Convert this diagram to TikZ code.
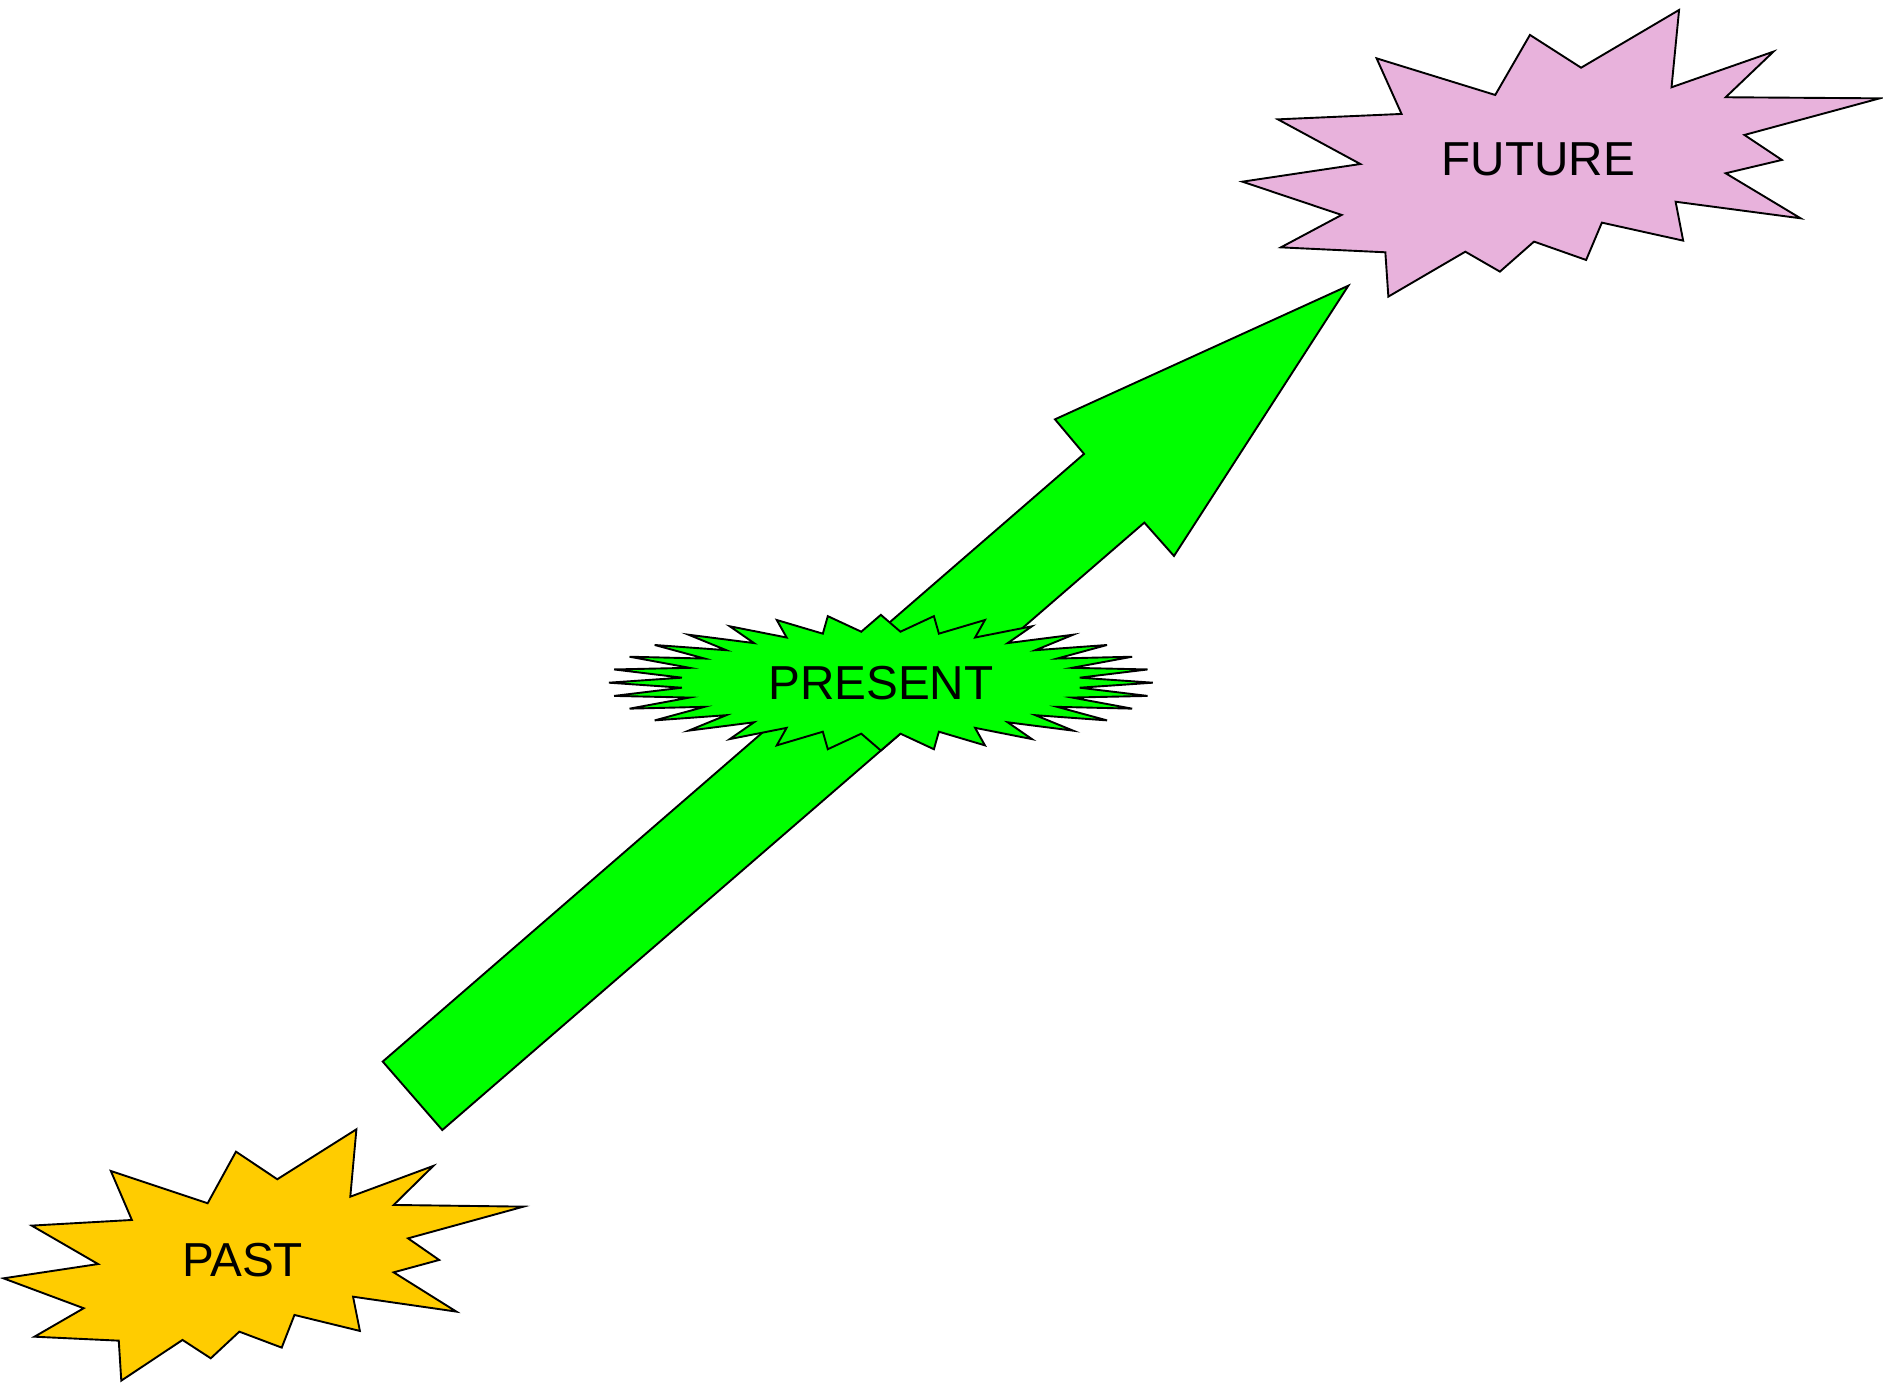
\documentclass[tikz,border=0pt]{standalone}
\usepackage{fontspec}
\setmainfont{Liberation Sans}
\usepackage{xcolor}
\definecolor{pastgold}{RGB}{255,204,0}
\definecolor{futurepink}{RGB}{232,178,220}
\definecolor{nowgreen}{RGB}{0,255,0}

\begin{document}
\begin{tikzpicture}[x=0.1mm, y=-0.1mm,
    burst/.style={draw=black, line width=0.45pt, line join=miter},
    lbl/.style={font=\fontsize{11.3}{13}\selectfont, inner sep=0pt}
]
\useasboundingbox (0,0) rectangle (1568,1152);

% big arrow, behind the present burst
\draw[burst, fill=nowgreen] (318.7,884) -- (902.7,378) -- (878.5,349.2) -- (1122.8,237.9)
    -- (977.6,463) -- (952.9,435.2) -- (368.3,941) -- cycle;

% present
\draw[burst, fill=nowgreen] (960,568.5)
    \foreach \i in {0,...,31} {
        -- ({733.5+0.735*226.5*cos(\i*11.25+5.625)}, {568.5-0.755*56.5*sin(\i*11.25+5.625)})
        -- ({733.5+226.5*cos((\i+1)*11.25)}, {568.5-56.5*sin((\i+1)*11.25)})
    } -- cycle;
\node[lbl] (present) at (733.5,569) {PRESENT};

% past
\draw[burst, fill=pastgold] (296.8,940.4) -- (291.7,996.5) -- (360.8,970.9) -- (327.8,1003.4)
    -- (435.9,1004.8) -- (339.8,1031.2) -- (365.7,1049.2) -- (327.8,1059.5) -- (380,1092.2)
    -- (294,1079.8) -- (299.7,1108.3) -- (245.2,1095) -- (234.6,1122.2) -- (199.3,1108.9)
    -- (175.5,1131.1) -- (152,1115.8) -- (101,1149.7) -- (98.9,1116.4) -- (28.7,1113.1)
    -- (69.7,1089.4) -- (2.9,1064.5) -- (81.7,1052.6) -- (26.4,1020.6) -- (109.8,1015.9)
    -- (92.3,975.1) -- (172.9,1002) -- (196.5,959) -- (230.9,982) -- cycle;
\node[lbl] (past) at (202,1049) {PAST};

% future
\draw[burst, fill=futurepink] (1398.2,8.3) -- (1391.9,72.7) -- (1476.8,43) -- (1437,81)
    -- (1565.3,81.9) -- (1452.6,112.4) -- (1483.8,133.2) -- (1437,144.3) -- (1499.4,181.8)
    -- (1395.3,168) -- (1401.6,200.4) -- (1333.9,185.4) -- (1320.8,216.5) -- (1277.4,201.2)
    -- (1249,226.2) -- (1220.2,209.6) -- (1156.1,247) -- (1153.6,210.1) -- (1066.6,206)
    -- (1117.2,179) -- (1034.6,151.3) -- (1132.8,136.6) -- (1064.1,99.4) -- (1167.1,94.9)
    -- (1146.3,48.6) -- (1245.1,79.1) -- (1274,29.1) -- (1316.6,56.4) -- cycle;
\node[lbl] (future) at (1281,133) {FUTURE};
\end{tikzpicture}
\end{document}
